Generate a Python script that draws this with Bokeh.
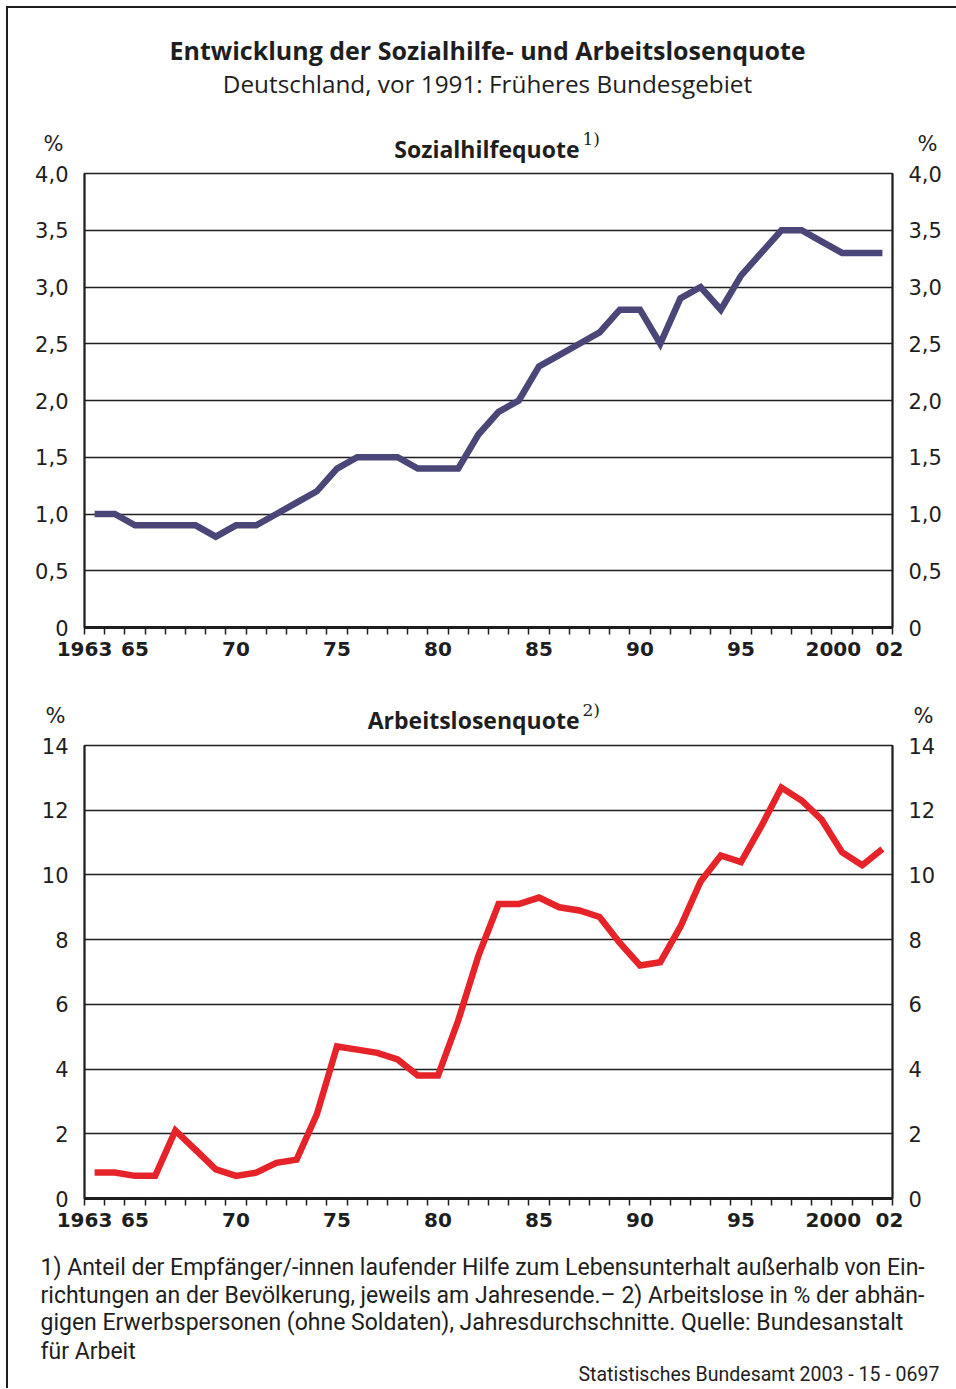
from bokeh.plotting import figure
from bokeh.models import FixedTicker, LinearAxis, Label, Range1d, Grid
from bokeh.layouts import column, row
from bokeh.embed import file_html
from bokeh.resources import INLINE

# ---------------- data ----------------
years = list(range(1963, 2003))
sozialhilfequote = [1.0, 1.0, 0.9, 0.9, 0.9, 0.9, 0.8, 0.9, 0.9, 1.0,
                    1.1, 1.2, 1.4, 1.5, 1.5, 1.5, 1.4, 1.4, 1.4, 1.7,
                    1.9, 2.0, 2.3, 2.4, 2.5, 2.6, 2.8, 2.8, 2.5, 2.9,
                    3.0, 2.8, 3.1, 3.3, 3.5, 3.5, 3.4, 3.3, 3.3, 3.3]
arbeitslosenquote = [0.8, 0.8, 0.7, 0.7, 2.1, 1.5, 0.9, 0.7, 0.8, 1.1,
                     1.2, 2.6, 4.7, 4.6, 4.5, 4.3, 3.8, 3.8, 5.5, 7.5,
                     9.1, 9.1, 9.3, 9.0, 8.9, 8.7, 7.9, 7.2, 7.3, 8.4,
                     9.8, 10.6, 10.4, 11.5, 12.7, 12.3, 11.7, 10.7, 10.3, 10.8]
x_label_years = [1963, 1965, 1970, 1975, 1980, 1985, 1990, 1995, 2000, 2002]
x_label_texts = ["1963", "65", "70", "75", "80", "85", "90", "95", "2000", "02"]
y1_ticks = [0, 0.5, 1.0, 1.5, 2.0, 2.5, 3.0, 3.5, 4.0]
y1_labels = ["0", "0,5", "1,0", "1,5", "2,0", "2,5", "3,0", "3,5", "4,0"]
y2_ticks = [0, 2, 4, 6, 8, 10, 12, 14]
y2_labels = ["0", "2", "4", "6", "8", "10", "12", "14"]

title_text = "Entwicklung der Sozialhilfe- und Arbeitslosenquote"
subtitle_text = "Deutschland, vor 1991: Früheres Bundesgebiet"
chart1_title = "Sozialhilfequote"
chart2_title = "Arbeitslosenquote"
footnotes = [
    "1) Anteil der Empfänger/-innen laufender Hilfe zum Lebensunterhalt  außerhalb von Ein-",
    "richtungen an der Bevölkerung, jeweils am Jahresende.– 2) Arbeitslose in % der abhän-",
    "gigen Erwerbspersonen (ohne Soldaten), Jahresdurchschnitte. Quelle: Bundesanstalt",
    "für Arbeit",
]
source_text = "Statistisches Bundesamt 2003 - 15 - 0697"

# ---------------- styles ----------------
INK = "#1e1e1e"
NUM_FONT = "DejaVu Sans"
TXT_FONT = "Roboto"
HEAD_FONT = "Open Sans"
W = 948
# label nudges (in years) so that edge labels do not collide
x_label_nudge = {1963: -0.5, 2000: -0.43, 2002: 0.35}


def text_fig(height):
    p = figure(width=W, height=height, x_range=Range1d(0, W), y_range=Range1d(0, height),
               x_axis_type=None, y_axis_type=None, title=None,
               output_backend="svg", toolbar_location=None,
               min_border_left=0, min_border_right=0, min_border_top=0, min_border_bottom=0)
    p.outline_line_color = None
    p.background_fill_color = "white"
    p.border_fill_color = "white"
    return p


def add_text(p, x, y, text, size, font=TXT_FONT, bold=False, align="left"):
    p.add_layout(Label(x=x, y=y, text=text, text_align=align, text_baseline="middle",
                       text_font=font, text_font_style="bold" if bold else "normal",
                       text_font_size=size, text_color=INK))


def make_chart(height, top, bottom, ymax, yticks, ylabels, values, color):
    p = figure(width=W, height=height,
               x_range=Range1d(1962.5, 2002.5), y_range=Range1d(0, ymax),
               x_axis_type=None, y_axis_type=None, title=None,
               output_backend="svg", toolbar_location=None,
               min_border_left=76, min_border_right=64,
               min_border_top=top, min_border_bottom=bottom)
    p.background_fill_color = "white"
    p.border_fill_color = "white"
    p.outline_line_color = INK
    p.outline_line_width = 1.5

    p.add_layout(Grid(dimension=1, ticker=FixedTicker(ticks=yticks),
                      grid_line_color=INK, grid_line_width=1.5))

    label_pos = [y + x_label_nudge.get(y, 0) for y in x_label_years]
    bounds = [1962.5 + k for k in range(41)]
    xa = LinearAxis(ticker=FixedTicker(ticks=label_pos, minor_ticks=bounds),
                    major_label_overrides={pos: t for pos, t in zip(label_pos, x_label_texts)},
                    axis_line_color=INK, axis_line_width=3,
                    minor_tick_line_color=INK, minor_tick_line_width=1.5,
                    minor_tick_in=0, minor_tick_out=7,
                    major_tick_in=0, major_tick_out=0,
                    major_label_standoff=7,
                    major_label_text_font=NUM_FONT, major_label_text_font_style="bold",
                    major_label_text_font_size="20px", major_label_text_color=INK)
    p.add_layout(xa, "below")

    overrides = {t: l for t, l in zip(yticks, ylabels)}
    for side in ("left", "right"):
        ya = LinearAxis(ticker=FixedTicker(ticks=yticks),
                        major_label_overrides=overrides,
                        axis_line_color=INK, axis_line_width=2,
                        major_tick_in=0, major_tick_out=0,
                        minor_tick_in=0, minor_tick_out=0,
                        major_label_standoff=16,
                        major_label_text_font=NUM_FONT,
                        major_label_text_font_size="21px",
                        major_label_text_color=INK)
        p.add_layout(ya, side)

    p.line(years, values, line_color=color, line_width=6.5, line_join="miter")
    return p


# header (title, subtitle, first panel heading); coordinates = page px minus 8
hA = 155
pA = text_fig(hA)
add_text(pA, 479, 114, title_text, "25px", font=HEAD_FONT, bold=True, align="center")
add_text(pA, 479, 80, subtitle_text, "24.3px", font=HEAD_FONT, align="center")
add_text(pA, 45, 20, "%", "21px", font=NUM_FONT, align="center")
add_text(pA, 919, 20, "%", "21px", font=NUM_FONT, align="center")
add_text(pA, 571, 15, chart1_title, "23px", font=HEAD_FONT, bold=True, align="right")
add_text(pA, 574, 25, "1)", "17px", font="DejaVu Serif")

pB = make_chart(527, 10, 63, 4.0, y1_ticks, y1_labels, sozialhilfequote, "#4a4778")

hC = 45
pC = text_fig(hC)
add_text(pC, 47, 20, "%", "21px", font=NUM_FONT, align="center")
add_text(pC, 915, 20, "%", "21px", font=NUM_FONT, align="center")
add_text(pC, 571, 16, chart2_title, "23px", font=HEAD_FONT, bold=True, align="right")
add_text(pC, 574, 26, "2)", "17px", font="DejaVu Serif")

pD = make_chart(499, 10, 36, 14, y2_ticks, y2_labels, arbeitslosenquote, "#e52329")

hE = 154
pE = text_fig(hE)
for fy, line in zip([121, 93, 66, 37], footnotes):
    add_text(pE, 32, fy, line, "23px")
add_text(pE, 570, 14, source_text, "19.5px")

layout = column(row(pA), row(pB), row(pC), row(pD), row(pE), spacing=0,
                styles={"margin-left": "6px", "margin-top": "6px",
                        "border-left": "2px solid #1e1e1e", "border-top": "2px solid #1e1e1e"})

open("out.html", "w").write(file_html(layout, INLINE))
